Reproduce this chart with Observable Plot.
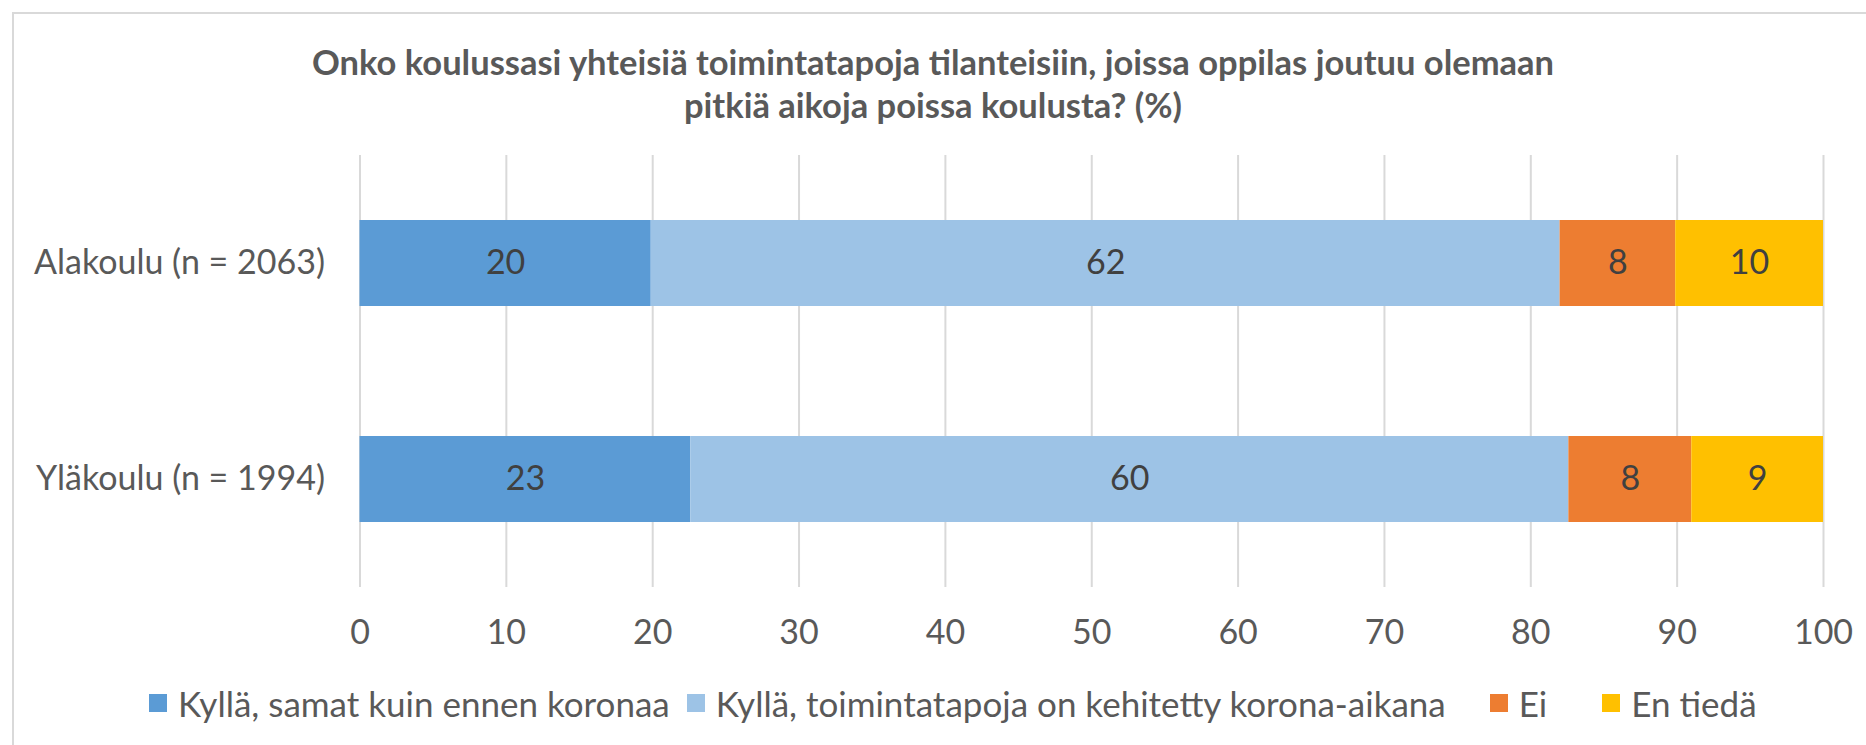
<!DOCTYPE html>
<html><head><meta charset="utf-8">
<script src="https://cdn.jsdelivr.net/npm/d3@7"></script>
<script src="https://cdn.jsdelivr.net/npm/@observablehq/plot@0.6"></script>
<style>
body{margin:0;background:#fff;font-family:Lato,"Open Sans",sans-serif;}
#wrap{position:relative;width:1866px;height:745px;overflow:hidden;background:#fff;}
#frame{position:absolute;left:12px;top:12px;width:1900px;height:800px;border:2px solid #d9d9d9;box-sizing:border-box;}
#title{position:absolute;top:40px;left:0;width:1866px;text-align:center;font-weight:bold;font-size:34.5px;line-height:43px;color:#595959;}
#chart{position:absolute;top:130px;left:0;}
#legend{position:absolute;top:683px;left:149px;display:flex;justify-content:flex-start;align-items:center;gap:17px;font-size:35px;line-height:40px;color:#595959;white-space:nowrap;}
.item{display:flex;align-items:center;gap:11px;}
.item.long{margin-right:27px;}
.item.wide{margin-right:38px;}
.sw{width:18px;height:18px;display:inline-block;}
</style></head>
<body>
<div id="wrap">
  <div id="frame"></div>
  <div id="title">Onko koulussasi yhteisiä toimintatapoja tilanteisiin, joissa oppilas joutuu olemaan<br>pitkiä aikoja poissa koulusta? (%)</div>
  <div id="chart"></div>
  <div id="legend"></div>
</div>
<script>
const categories = ["Alakoulu (n = 2063)", "Yläkoulu (n = 1994)"];
const series = ["Kyllä, samat kuin ennen koronaa", "Kyllä, toimintatapoja on kehitetty korona-aikana", "Ei", "En tiedä"];
const alakoulu = [19.9, 62.1, 7.9, 10.1];
const ylakoulu = [22.6, 60.0, 8.4, 9.0];
const colors = ["#5B9BD5", "#9DC3E6", "#ED7D31", "#FFC000"];
const xTicks = [0, 10, 20, 30, 40, 50, 60, 70, 80, 90, 100];

const valuesByCategory = [alakoulu, ylakoulu];
const rows = [];
categories.forEach((c, i) => series.forEach((s, j) => rows.push({category: c, series: s, value: valuesByCategory[i][j]})));

const fmt = d3.format(".0f");
const chart = Plot.plot({
  width: 1866,
  height: 540,
  marginTop: 25,
  marginBottom: 83,
  marginLeft: 359.5,
  marginRight: 43,
  x: {domain: [0, 100], ticks: xTicks, label: null},
  y: {domain: categories, label: null, paddingInner: 0.6, paddingOuter: 0.3},
  color: {domain: series, range: colors},
  style: {fontFamily: "Lato, 'Open Sans', sans-serif", fontSize: "34px", color: "#595959", background: "transparent"},
  marks: [
    Plot.gridX(xTicks, {stroke: "#d9d9d9", strokeOpacity: 1, strokeWidth: 2}),
    Plot.barX(rows, Plot.stackX({x: "value", y: "category", fill: "series"})),
    Plot.text(rows, Plot.stackX({x: "value", y: "category", text: d => fmt(d.value), fill: "#404040", fontSize: 34})),
    Plot.axisX({ticks: xTicks, tickSize: 0, tickPadding: 32, fontSize: 34, label: null}),
    Plot.axisY({tickSize: 0, tickPadding: 35, fontSize: 34, label: null})
  ]
});
document.getElementById("chart").appendChild(chart);

const legend = document.getElementById("legend");
const extraClass = ["", " long", " wide", ""];
series.forEach((s, i) => {
  const item = document.createElement("div");
  item.className = "item" + extraClass[i];
  const sw = document.createElement("span");
  sw.className = "sw";
  sw.style.background = colors[i];
  const t = document.createElement("span");
  t.textContent = s;
  item.appendChild(sw);
  item.appendChild(t);
  legend.appendChild(item);
});
</script>
</body></html>
